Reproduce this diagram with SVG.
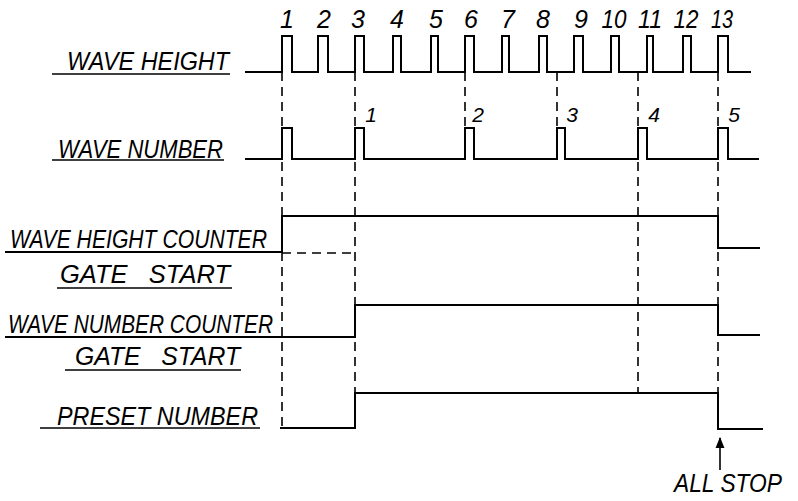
<svg xmlns="http://www.w3.org/2000/svg" width="798" height="501" viewBox="0 0 798 501">
<defs>
<style>
.sig{fill:none;stroke:#000;stroke-width:2;stroke-linejoin:miter}
.dash{fill:none;stroke:#000;stroke-width:1.6;stroke-dasharray:9 6}
.ul{fill:none;stroke:#000;stroke-width:1.6}
.lbl{font-family:"Liberation Sans",Arial,sans-serif;font-style:italic;font-size:26px;fill:#000;white-space:pre}
.num{font-family:"Liberation Sans",Arial,sans-serif;font-style:italic;font-size:25px;fill:#000;text-anchor:middle}
.wn{font-family:"Liberation Sans",Arial,sans-serif;font-style:italic;font-size:21px;fill:#000;text-anchor:middle}
</style>
<marker id="ah" viewBox="0 0 10 10" refX="9" refY="5" markerWidth="7" markerHeight="9" orient="auto"><path d="M0,1 L10,5 L0,9 Z" fill="#000"/></marker>
</defs>
<rect width="798" height="501" fill="#fff"/>

<g id="connectors">
<path class="dash" d="M282,72 V427"/>
<path class="dash" d="M355,72 V393"/>
<path class="dash" d="M465,72 V128"/>
<path class="dash" d="M557,72 V128"/>
<path class="dash" d="M638,72 V393"/>
<path class="dash" d="M718,72 V429"/>
<path class="dash" d="M282,253 H355"/>
<path class="ul" d="M720,470 V438" marker-end="url(#ah)"/>
</g>

<g id="wave-height">
<path class="sig" d="M245,72 H282 V36 H292 V72 H318 V36 H328 V72 H355 V36 H364 V72 H393 V36 H401 V72 H431 V36 H438 V72 H465 V36 H474 V72 H502 V36 H509 V72 H539 V36 H547 V72 H574 V36 H583 V72 H611 V36 H619 V72 H647 V36 H653 V72 H683 V36 H691 V72 H718 V36 H728 V72 H751"/>
<text class="lbl" x="67" y="70" font-size="27" textLength="162" lengthAdjust="spacingAndGlyphs">WAVE HEIGHT</text>
<path class="ul" d="M52,74 H230"/>
<text class="num" x="287" y="28">1</text>
<text class="num" x="324" y="28">2</text>
<text class="num" x="358" y="28">3</text>
<text class="num" x="397" y="28">4</text>
<text class="num" x="436" y="28">5</text>
<text class="num" x="471" y="28">6</text>
<text class="num" x="508" y="28">7</text>
<text class="num" x="543" y="28">8</text>
<text class="num" x="581" y="28">9</text>
<text class="num" x="614" y="28" textLength="25" lengthAdjust="spacingAndGlyphs">10</text>
<text class="num" x="650" y="28" textLength="24" lengthAdjust="spacingAndGlyphs">11</text>
<text class="num" x="686" y="28" textLength="25" lengthAdjust="spacingAndGlyphs">12</text>
<text class="num" x="722" y="28" textLength="22" lengthAdjust="spacingAndGlyphs">13</text>
</g>

<g id="wave-number">
<path class="sig" d="M245,159 H282 V128 H292 V159 H355 V128 H364 V159 H465 V128 H474 V159 H557 V128 H565 V159 H638 V128 H647 V159 H718 V128 H728 V159 H759"/>
<text class="lbl" x="58" y="158" font-size="27" textLength="165" lengthAdjust="spacingAndGlyphs">WAVE NUMBER</text>
<path class="ul" d="M52,160 H224"/>
<text class="wn" x="371" y="122">1</text>
<text class="wn" x="478" y="122">2</text>
<text class="wn" x="572" y="122">3</text>
<text class="wn" x="654" y="122">4</text>
<text class="wn" x="734" y="122">5</text>
</g>

<g id="wave-height-counter">
<path class="sig" d="M5,252 H282 V216 H718 V248 H760"/>
<text class="lbl" x="10" y="248" font-size="25" textLength="257" lengthAdjust="spacingAndGlyphs">WAVE HEIGHT COUNTER</text>
</g>

<g id="gate-start-1">
<text class="lbl" x="60" y="283" font-size="23" textLength="170" lengthAdjust="spacingAndGlyphs">GATE   START</text>
<path class="ul" d="M57,288 H232"/>
</g>

<g id="wave-number-counter">
<path class="sig" d="M5,337 H355 V305 H718 V335 H760"/>
<text class="lbl" x="8" y="333" font-size="27" textLength="265" lengthAdjust="spacingAndGlyphs">WAVE NUMBER COUNTER</text>
</g>

<g id="gate-start-2">
<text class="lbl" x="75" y="365" font-size="23" textLength="165" lengthAdjust="spacingAndGlyphs">GATE   START</text>
<path class="ul" d="M65,370 H241"/>
</g>

<g id="preset-number">
<path class="sig" d="M280,428 H355 V393 H718 V429 H763"/>
<text class="lbl" x="57" y="425" font-size="25" textLength="201" lengthAdjust="spacingAndGlyphs">PRESET NUMBER</text>
<path class="ul" d="M40,428 H260"/>
</g>

<g id="all-stop">
<text class="lbl" x="674" y="492" font-size="28" textLength="108" lengthAdjust="spacingAndGlyphs">ALL STOP</text>
</g>
</svg>
